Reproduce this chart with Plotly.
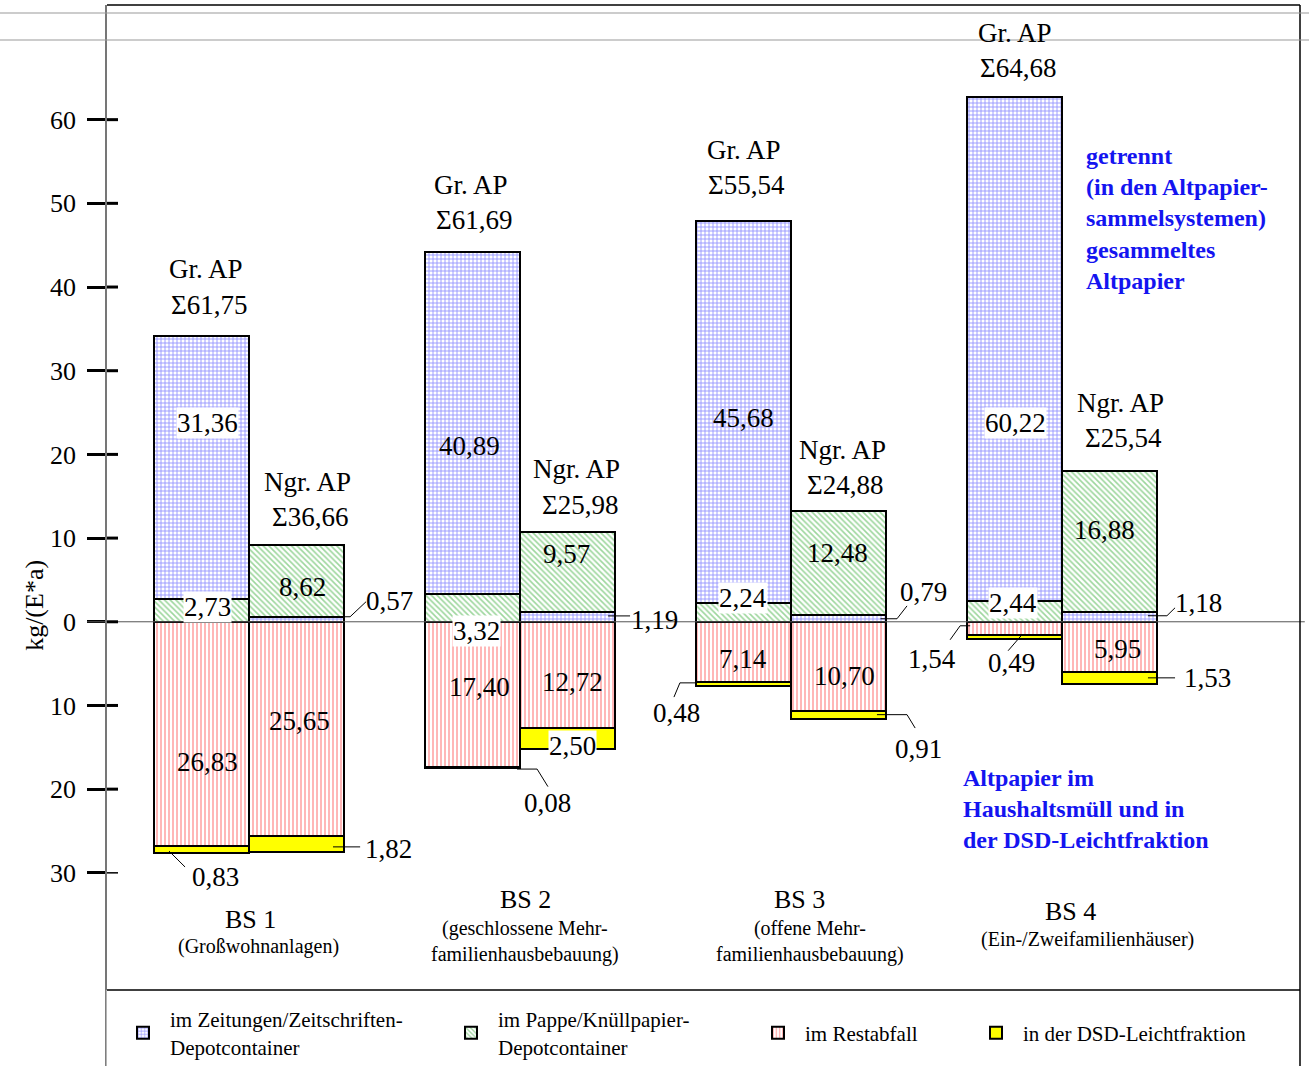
import plotly.graph_objects as go

# ---------------- data ----------------
groups = ["BS 1", "BS 2", "BS 3", "BS 4"]
group_sub = ["(Großwohnanlagen)",
             "(geschlossene Mehr-<br>familienhausbebauung)",
             "(offene Mehr-<br>familienhausbebauung)",
             "(Ein-/Zweifamilienhäuser)"]
# Gr. AP bars
gr_pappe = [2.73, 3.32, 2.24, 2.44]
gr_zeitung = [31.36, 40.89, 45.68, 60.22]
gr_rest = [26.83, 17.40, 7.14, 1.54]
gr_dsd = [0.83, 0.08, 0.48, 0.49]
gr_sum = ["61,75", "61,69", "55,54", "64,68"]
# Ngr. AP bars
ngr_zeitung = [0.57, 1.19, 0.79, 1.18]
ngr_pappe = [8.62, 9.57, 12.48, 16.88]
ngr_rest = [25.65, 12.72, 10.70, 5.95]
ngr_dsd = [1.82, 2.50, 0.91, 1.53]
ngr_sum = ["36,66", "25,98", "24,88", "25,54"]

legend_names = ["im Zeitungen/Zeitschriften-<br>Depotcontainer",
                "im Pappe/Knüllpapier-<br>Depotcontainer",
                "im Restabfall",
                "in der DSD-Leichtfraktion"]

yticks = [-30, -20, -10, 0, 10, 20, 30, 40, 50, 60]

# ---------------- geometry helpers ----------------
BW = 0.35
OFF = 0.175
x_gr = [i - OFF for i in range(len(groups))]
x_ngr = [i + OFF for i in range(len(groups))]

FONT = "Liberation Serif"
BLUE_PAT = dict(shape="+", fgcolor="#2a2aff", bgcolor="white", size=4, solidity=0.4)
GREEN_PAT = dict(shape="\\", fgcolor="#3cae3c", bgcolor="white", size=4, solidity=0.4)
RED_PAT = dict(shape="|", fgcolor="#ff4a4a", bgcolor="white", size=4, solidity=0.4)
LINE = dict(color="black", width=2)

def fmt(v):
    return f"{v:.2f}".replace(".", ",")

fig = go.Figure()

def add_bar(x, y, pat=None, color="white", name=None, legend=None, show=False):
    marker = dict(color=color, line=LINE)
    if pat:
        marker["pattern"] = pat
    fig.add_trace(go.Bar(x=x, y=y, width=BW, marker=marker, name=name,
                         legendgroup=name, showlegend=show,
                         legend=legend, hoverinfo="skip"))

# stacking order per position
add_bar(x_gr, gr_pappe, GREEN_PAT, "white", legend_names[1], "legend2", True)
add_bar(x_ngr, ngr_zeitung, BLUE_PAT, "white", legend_names[0], "legend", True)
add_bar(x_gr, gr_zeitung, BLUE_PAT, "white", legend_names[0], "legend")
add_bar(x_ngr, ngr_pappe, GREEN_PAT, "white", legend_names[1], "legend2")
add_bar(x_gr + x_ngr, [-v for v in gr_rest + ngr_rest], RED_PAT, "white",
        legend_names[2], "legend3", True)
add_bar(x_gr + x_ngr, [-v for v in gr_dsd + ngr_dsd], None, "#ffff00",
        legend_names[3], "legend4", True)

# ---------------- annotations ----------------
ann = []
def txt(x, y, t, size=27, bg=None, xanchor="center", yanchor="middle", color="black",
        align="center"):
    d = dict(x=x, y=y, xref="x", yref="y", text=t, showarrow=False,
             font=dict(family=FONT, size=size, color=color),
             xanchor=xanchor, yanchor=yanchor, align=align, borderpad=0)
    if bg:
        d["bgcolor"] = bg
    ann.append(d)

# header labels: (x, y) for "Gr. AP" and sigma lines
gr_head = [(-0.16, 42.1), (0.82, 52.2), (1.825, 56.4), (2.825, 70.4)]
ngr_head = [(0.215, 16.7), (1.21, 18.2), (2.19, 20.5), (3.215, 26.2)]
for i in range(4):
    hx, hy = gr_head[i]
    txt(hx, hy, "Gr. AP")
    txt(hx + 0.012, hy - 4.2, "Σ" + gr_sum[i])
    nx, ny = ngr_head[i]
    txt(nx, ny, "Ngr. AP")
    txt(nx + 0.01, ny - 4.2, "Σ" + ngr_sum[i])

# value labels: (x, y, value, white background)
val_labels = [
    (-0.155, 23.7, gr_zeitung[0], True), (-0.155, 1.8, gr_pappe[0], True),
    (-0.155, -16.7, gr_rest[0], False), (-0.125, -30.5, gr_dsd[0], False),
    (0.196, 4.2, ngr_pappe[0], False), (0.52, 2.5, ngr_zeitung[0], False),
    (0.188, -11.9, ngr_rest[0], False), (0.513, -27.1, ngr_dsd[0], False),
    (0.815, 21.0, gr_zeitung[1], False), (0.841, -1.1, gr_pappe[1], True),
    (0.852, -7.8, gr_rest[1], False), (1.103, -21.6, gr_dsd[1], False),
    (1.17, 8.1, ngr_pappe[1], False), (1.498, 0.2, ngr_zeitung[1], False),
    (1.192, -7.2, ngr_rest[1], False), (1.192, -14.8, ngr_dsd[1], True),
    (1.823, 24.3, gr_zeitung[2], False), (1.823, 2.9, gr_pappe[2], True),
    (1.823, -4.4, gr_rest[2], False), (1.576, -10.9, gr_dsd[2], False),
    (2.173, 8.2, ngr_pappe[2], False), (2.49, 3.6, ngr_zeitung[2], False),
    (2.199, -6.5, ngr_rest[2], False), (2.469, -15.2, ngr_dsd[2], False),
    (2.83, 23.7, gr_zeitung[3], True), (2.819, 2.2, gr_pappe[3], True),
    (2.52, -4.5, gr_rest[3], False), (2.815, -4.9, gr_dsd[3], False),
    (3.155, 11.0, ngr_pappe[3], False), (3.502, 2.2, ngr_zeitung[3], False),
    (3.203, -3.3, ngr_rest[3], False), (3.535, -6.7, ngr_dsd[3], False),
]
for x, y, v, bg in val_labels:
    txt(x, y, fmt(v), bg="white" if bg else None)

# category labels
cat_pos = [(0.005, -35.6, -38.8), (1.02, -33.2, -38.2), (2.03, -33.2, -38.2), (3.03, -34.6, -38.0)]
sub_dx = [0.03, 0.0, 0.04, 0.065]
for i in range(4):
    cx, cy, sy = cat_pos[i]
    txt(cx, cy, groups[i], size=26)
    txt(cx + sub_dx[i], sy, group_sub[i], size=20)

# blue explanatory texts
def bold_lines(s):
    return "<br>".join("<b>" + p + "</b>" for p in s.split("<br>"))
txt(3.085, 57.3, bold_lines("getrennt<br>(in den Altpapier-<br>sammelsystemen)<br>gesammeltes<br>Altpapier"),
    size=24, color="#1414f0", xanchor="left", yanchor="top", align="left")
txt(2.631, -17.0, bold_lines("Altpapier im<br>Haushaltsmüll und in<br>der DSD-Leichtfraktion"),
    size=24, color="#1414f0", xanchor="left", yanchor="top", align="left")

# y-axis title
ann.append(dict(x=-72 / 1193, y=0.39, xref="paper", yref="paper", text="kg/(E*a)",
                textangle=-90, showarrow=False, font=dict(family=FONT, size=26),
                xanchor="center", yanchor="middle"))

# ---------------- shapes ----------------
shapes = []
# leader lines
leaders = [
    [(-0.295, -27.4), (-0.236, -29.3)],
    [(0.31, 0.6), (0.373, 0.6), (0.432, 2.4)],
    [(0.31, -26.9), (0.41, -26.9)],
    [(0.989, -17.6), (1.063, -17.6), (1.103, -19.7)],
    [(1.325, 0.7), (1.406, 0.7)],
    [(1.646, -7.3), (1.59, -7.3), (1.568, -9.0)],
    [(2.33, 0.36), (2.391, 0.36), (2.428, 1.9)],
    [(2.317, -11.1), (2.428, -11.1), (2.458, -12.7)],
    [(2.661, -0.48), (2.624, -0.48), (2.587, -2.15)],
    [(2.852, -1.55), (2.801, -3.46)],
    [(3.317, 0.72), (3.387, 0.72), (3.417, 1.67)],
    [(3.317, -6.7), (3.417, -6.7)],
]
for pts in leaders:
    path = "M" + " L".join(f"{x},{y}" for x, y in pts)
    shapes.append(dict(type="path", path=path, xref="x", yref="y",
                       line=dict(color="black", width=1)))

W_PLOT = 1193.0
H_PLOT = 985.0
# zero line extended beyond the axis
shapes.append(dict(type="line", xref="paper", yref="y", x0=-20 / W_PLOT, x1=1.004,
                   y0=0, y1=0, line=dict(color="#555555", width=1), layer="above"))
# inner tick stubs (ticks cross the axis line)
for v in yticks:
    shapes.append(dict(type="line", xref="paper", yref="y", x0=0, x1=11 / W_PLOT,
                       y0=v, y1=v, line=dict(color="black", width=3 if v != -30 else 1.5)))
# frame
shapes += [
    dict(type="line", xref="paper", yref="paper", x0=0, x1=1, y0=1, y1=1,
         line=dict(color="black", width=1.5)),
    dict(type="line", xref="paper", yref="paper", x0=0, x1=1, y0=0, y1=0,
         line=dict(color="black", width=1.5)),
    dict(type="line", xref="paper", yref="paper", x0=1, x1=1, y0=-90 / H_PLOT, y1=1,
         line=dict(color="black", width=1.5)),
    dict(type="line", xref="paper", yref="paper", x0=-0.001, x1=-0.001, y0=-90 / H_PLOT, y1=1,
         line=dict(color="#777777", width=1.5)),
    dict(type="line", xref="paper", yref="paper", x0=-107 / W_PLOT, x1=1 + 9 / W_PLOT,
         y0=1 - 8 / H_PLOT, y1=1 - 8 / H_PLOT, line=dict(color="#999999", width=1.2)),
    dict(type="line", xref="paper", yref="paper", x0=-107 / W_PLOT, x1=1 + 9 / W_PLOT,
         y0=1 - 35 / H_PLOT, y1=1 - 35 / H_PLOT, line=dict(color="#999999", width=1.2)),
]

# ---------------- layout ----------------
leg_common = dict(orientation="v", yanchor="middle", y=-43 / H_PLOT, xanchor="left",
                  bgcolor="rgba(0,0,0,0)", font=dict(family=FONT, size=21, color="black"),
                  itemsizing="constant", itemwidth=44, tracegroupgap=0)
fig.update_layout(
    width=1309, height=1066,
    margin=dict(l=107, r=9, t=5, b=76, autoexpand=False),
    paper_bgcolor="white", plot_bgcolor="white",
    barmode="relative", bargap=0,
    font=dict(family=FONT, size=20, color="black"),
    xaxis=dict(range=[-0.524, 3.878], showticklabels=False, showgrid=False,
               zeroline=False, showline=False, ticks="", automargin=False),
    yaxis=dict(range=[-44.0, 73.7], tickvals=yticks,
               ticktext=[str(abs(v)) for v in yticks],
               tickfont=dict(family=FONT, size=26, color="black"),
               ticks="outside", ticklen=18, tickwidth=3, tickcolor="black",
               ticklabelstandoff=6, automargin=False,
               showgrid=False, zeroline=False, showline=True,
               linecolor="#777777", linewidth=1.5),
    legend=dict(x=9 / W_PLOT, **leg_common),
    legend2=dict(x=337 / W_PLOT, **leg_common),
    legend3=dict(x=644 / W_PLOT, **leg_common),
    legend4=dict(x=862 / W_PLOT, **leg_common),
    annotations=ann,
    shapes=shapes,
)

fig.write_html("out.html", config={"displayModeBar": False},
               post_script="document.body.style.margin='0';document.body.style.overflow='hidden';")
